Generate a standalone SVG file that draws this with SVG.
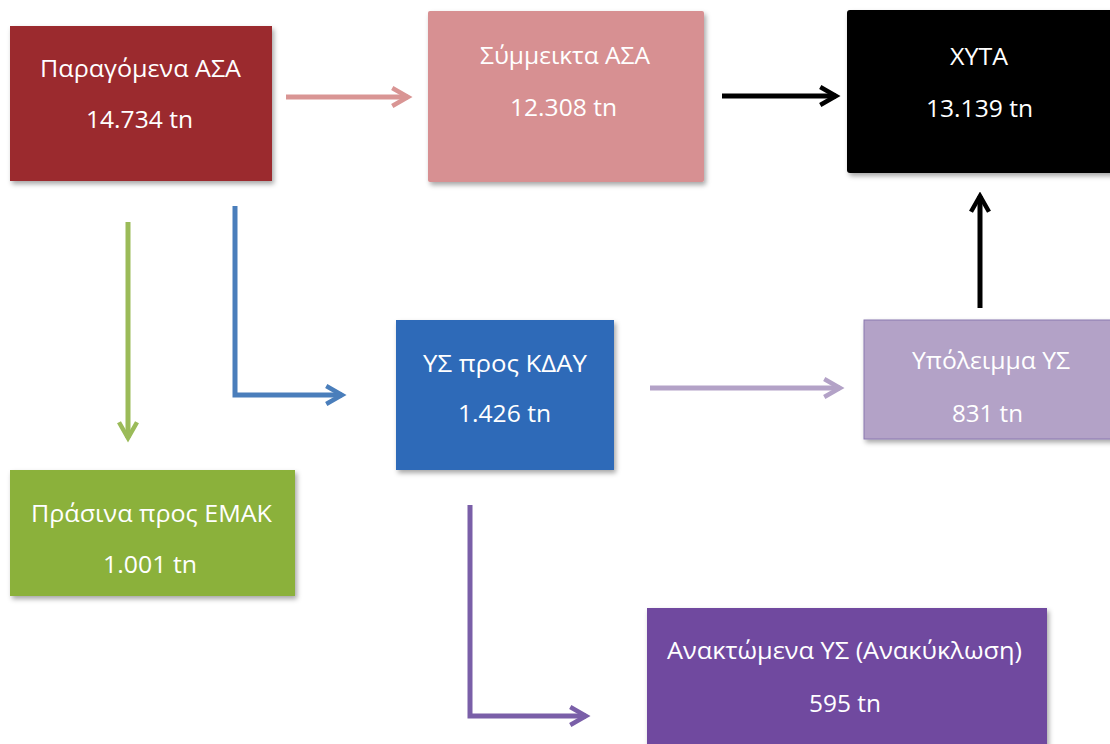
<svg xmlns="http://www.w3.org/2000/svg" width="1110" height="744" viewBox="0 0 1110 744">
<style>
.t{font-family:"Open Sans","Noto Sans","Liberation Sans",sans-serif;font-size:24px;fill:#ffffff;text-anchor:middle}
.c{fill:none;stroke-width:5;stroke-linejoin:miter}
</style>
<defs>
<filter id="sh" x="-10%" y="-10%" width="125%" height="130%">
<feDropShadow dx="2" dy="3" stdDeviation="2.5" flood-color="#000" flood-opacity="0.35"/>
</filter>
<marker id="mp" viewBox="0 0 10 10" refX="8" refY="5" markerWidth="4.5" markerHeight="4.5" orient="auto" markerUnits="strokeWidth"><path d="M1,1 L8,5 L1,9" fill="none" stroke="#d99594" stroke-width="2"/></marker>
<marker id="mk" viewBox="0 0 10 10" refX="8" refY="5" markerWidth="4.5" markerHeight="4.5" orient="auto" markerUnits="strokeWidth"><path d="M1,1 L8,5 L1,9" fill="none" stroke="#000" stroke-width="2"/></marker>
<marker id="mg" viewBox="0 0 10 10" refX="8" refY="5" markerWidth="4.5" markerHeight="4.5" orient="auto" markerUnits="strokeWidth"><path d="M1,1 L8,5 L1,9" fill="none" stroke="#9bbb59" stroke-width="2"/></marker>
<marker id="mb" viewBox="0 0 10 10" refX="8" refY="5" markerWidth="4.5" markerHeight="4.5" orient="auto" markerUnits="strokeWidth"><path d="M1,1 L8,5 L1,9" fill="none" stroke="#4a7ebb" stroke-width="2"/></marker>
<marker id="ml" viewBox="0 0 10 10" refX="8" refY="5" markerWidth="4.5" markerHeight="4.5" orient="auto" markerUnits="strokeWidth"><path d="M1,1 L8,5 L1,9" fill="none" stroke="#b3a2c7" stroke-width="2"/></marker>
<marker id="mu" viewBox="0 0 10 10" refX="8" refY="5" markerWidth="4.5" markerHeight="4.5" orient="auto" markerUnits="strokeWidth"><path d="M1,1 L8,5 L1,9" fill="none" stroke="#7a5fa8" stroke-width="2"/></marker>
</defs>
<rect width="1110" height="744" fill="#ffffff"/>
<g id="connectors">
<path class="c" d="M286,97 L408,97" stroke="#d99594" marker-end="url(#mp)"/>
<path class="c" d="M722,96 L836,96" stroke="#000" marker-end="url(#mk)"/>
<path class="c" d="M980,308 L980,196" stroke="#000" marker-end="url(#mk)"/>
<path class="c" d="M128,222 L128,438" stroke="#9bbb59" marker-end="url(#mg)"/>
<path class="c" d="M235,206 L235,395 L342,395" stroke="#4a7ebb" marker-end="url(#mb)"/>
<path class="c" d="M650,388 L840,388" stroke="#b3a2c7" marker-end="url(#ml)"/>
<path class="c" d="M470,505 L470,716 L586,716" stroke="#7a5fa8" marker-end="url(#mu)"/>
</g>
<g id="n1"><rect x="10" y="26" width="262" height="155" fill="#9b2b2f" filter="url(#sh)"/>
<text class="t" x="140.5" y="77" textLength="201" lengthAdjust="spacingAndGlyphs">Παραγόμενα ΑΣΑ</text><text class="t" x="139.5" y="128" textLength="107" lengthAdjust="spacingAndGlyphs">14.734 tn</text></g>
<g id="n2"><rect x="428" y="11" width="276" height="171" rx="2" fill="#d79092" filter="url(#sh)"/>
<text class="t" x="565" y="64" textLength="170" lengthAdjust="spacingAndGlyphs">Σύμμεικτα ΑΣΑ</text><text class="t" x="563.5" y="116" textLength="107" lengthAdjust="spacingAndGlyphs">12.308 tn</text></g>
<g id="n3"><rect x="847" y="10" width="270" height="163" rx="3" fill="#000000" filter="url(#sh)"/>
<text class="t" x="979" y="65" textLength="58" lengthAdjust="spacingAndGlyphs">XYTA</text><text class="t" x="979.5" y="117" textLength="107" lengthAdjust="spacingAndGlyphs">13.139 tn</text></g>
<g id="n4"><rect x="396" y="320" width="218" height="150" fill="#2f6ab8" filter="url(#sh)"/>
<text class="t" x="505" y="372" textLength="164" lengthAdjust="spacingAndGlyphs">ΥΣ προς ΚΔΑΥ</text><text class="t" x="504.5" y="422" textLength="93" lengthAdjust="spacingAndGlyphs">1.426 tn</text></g>
<g id="n5"><rect x="864" y="320" width="252" height="119" fill="#b3a2c7" stroke="#8a78b0" stroke-width="1" filter="url(#sh)"/>
<text class="t" x="991" y="369" textLength="158" lengthAdjust="spacingAndGlyphs">Υπόλειμμα ΥΣ</text><text class="t" x="987.5" y="422" textLength="71" lengthAdjust="spacingAndGlyphs">831 tn</text></g>
<g id="n6"><rect x="10" y="470" width="285" height="126" fill="#8bb13a" filter="url(#sh)"/>
<text class="t" x="151.5" y="522" textLength="241" lengthAdjust="spacingAndGlyphs">Πράσινα προς ΕΜΑΚ</text><text class="t" x="150" y="573" textLength="94" lengthAdjust="spacingAndGlyphs">1.001 tn</text></g>
<g id="n7"><rect x="647" y="608" width="400" height="140" fill="#6f4a9f" filter="url(#sh)"/>
<text class="t" x="844.5" y="659" textLength="355" lengthAdjust="spacingAndGlyphs">Ανακτώμενα ΥΣ (Ανακύκλωση)</text><text class="t" x="845" y="712" textLength="72" lengthAdjust="spacingAndGlyphs">595 tn</text></g>
</svg>
